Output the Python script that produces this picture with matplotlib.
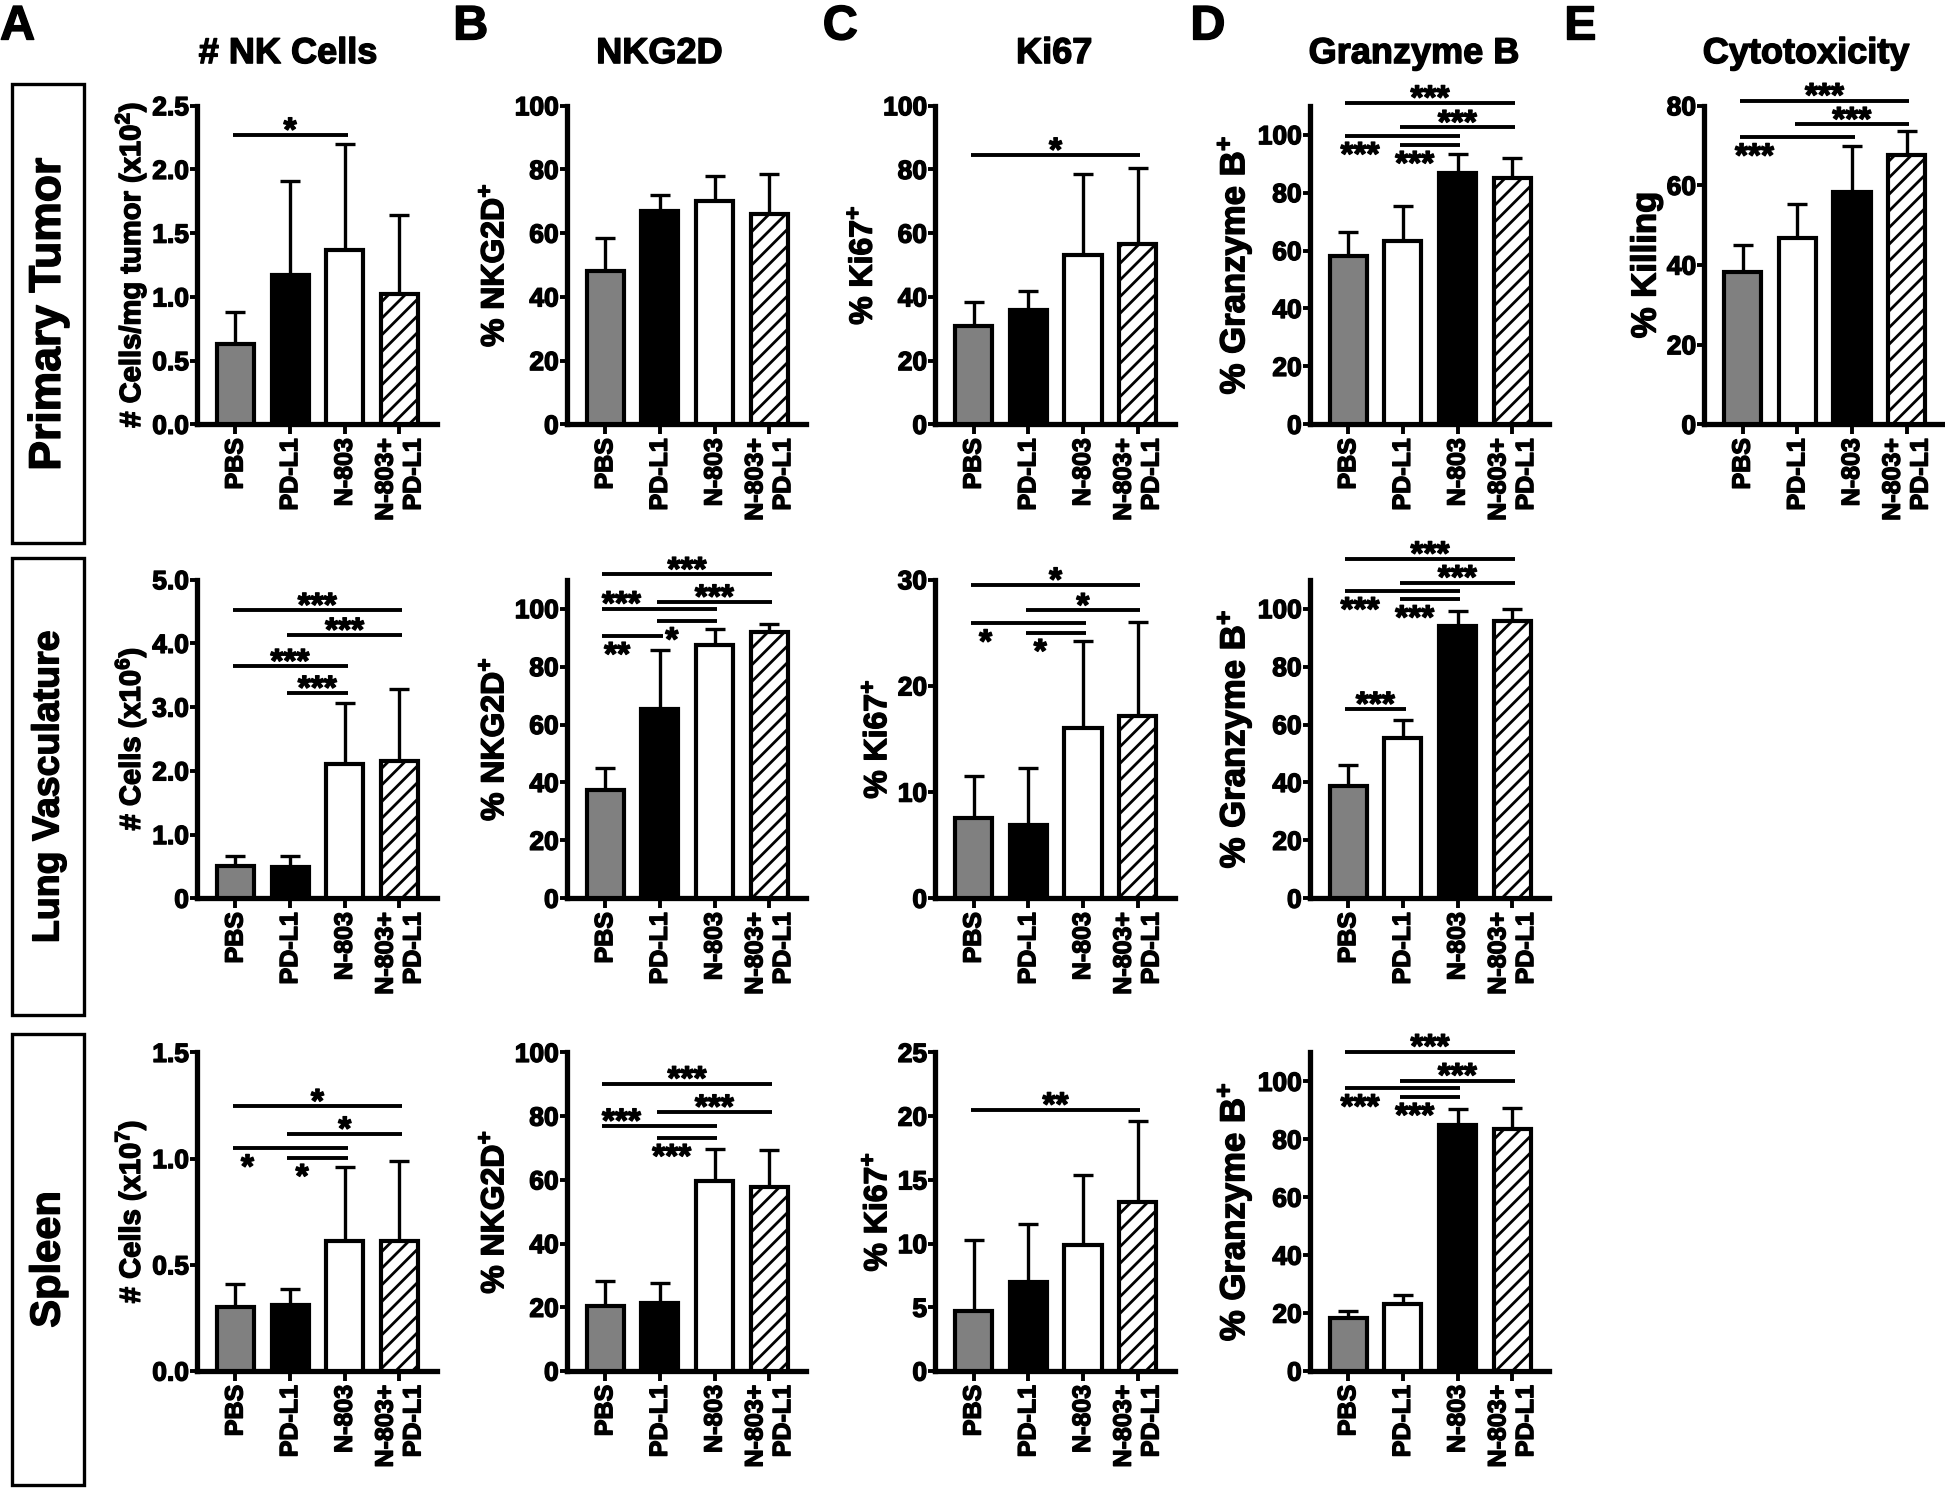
import matplotlib.pyplot as plt
import matplotlib.patches as mpatches
import matplotlib.patheffects as pe
from matplotlib.text import Text
import numpy as np

plt.rcParams['font.family'] = ['Liberation Sans', 'DejaVu Sans']
plt.rcParams['font.weight'] = 'bold'
plt.rcParams['axes.labelweight'] = 'bold'
plt.rcParams['mathtext.fontset'] = 'custom'
plt.rcParams['mathtext.rm'] = 'Liberation Sans:bold'
plt.rcParams['mathtext.bf'] = 'Liberation Sans:bold'
plt.rcParams['mathtext.it'] = 'Liberation Sans:bold'
plt.rcParams['mathtext.default'] = 'rm'
plt.rcParams['hatch.linewidth'] = 2.0

groups = ['PBS', 'PD-L1', 'N-803', 'N-803+\nPD-L1']
rows = ['Primary Tumor', 'Lung Vasculature', 'Spleen']
titles = ['# NK Cells', 'NKG2D', 'Ki67', 'Granzyme B', 'Cytotoxicity']
letters = ['A', 'B', 'C', 'D', 'E']

# primary tumor (mean, upper SD)
nk_tumor = [0.63, 1.17, 1.37, 1.02]
nk_tumor_sd = [0.25, 0.74, 0.83, 0.62]
nkg2d_tumor = [48, 67, 70, 66]
nkg2d_tumor_sd = [10.5, 5, 8, 12.5]
ki67_tumor = [31, 36, 53, 56.5]
ki67_tumor_sd = [7.5, 6, 25.5, 24]
gzmb_tumor = [58, 63.3, 86.8, 85.2]
gzmb_tumor_sd = [8.3, 12, 6.7, 6.8]
killing = [38.2, 46.9, 58.4, 67.6]
killing_sd = [6.9, 8.3, 11.5, 6.1]

# lung vasculature
nk_lung = [0.50, 0.49, 2.11, 2.16]
nk_lung_sd = [0.16, 0.17, 0.96, 1.13]
nkg2d_lung = [37.4, 65.2, 87.6, 92]
nkg2d_lung_sd = [7.6, 20.4, 5.3, 2.8]
ki67_lung = [7.6, 6.9, 16.05, 17.2]
ki67_lung_sd = [3.9, 5.4, 8.15, 8.8]
gzmb_lung = [38.9, 55.4, 94.1, 95.9]
gzmb_lung_sd = [7.2, 6, 5.1, 4.1]

# spleen
nk_spleen = [0.30, 0.31, 0.61, 0.61]
nk_spleen_sd = [0.11, 0.075, 0.35, 0.38]
nkg2d_spleen = [20.4, 21.4, 59.6, 57.9]
nkg2d_spleen_sd = [8, 6.3, 10.2, 11.4]
ki67_spleen = [4.72, 7.0, 9.9, 13.3]
ki67_spleen_sd = [5.6, 4.5, 5.5, 6.3]
gzmb_spleen = [18.4, 23.0, 84.9, 83.7]
gzmb_spleen_sd = [2.3, 3.1, 5.4, 7.1]

# significance bars: (group i, group j, level, stars, where the stars go)
sig_nk_tumor = [(0, 2, 2.27, '*', 'a')]
sig_ki67_tumor = [(0, 3, 84.5, '*', 'a')]
sig_gzmb_tumor = [(0, 3, 111, '***', 'a'), (1, 3, 102.5, '***', 'a'),
                  (0, 2, 99.6, '***', 'b'), (1, 2, 96.5, '***', 'b')]
sig_killing = [(0, 3, 81.3, '***', 'a'), (1, 3, 75.3, '***', 'a'),
               (0, 2, 72.1, '***', 'b')]
sig_nk_lung = [(0, 3, 4.52, '***', 'a'), (1, 3, 4.13, '***', 'a'),
               (0, 2, 3.64, '***', 'a'), (1, 2, 3.22, '***', 'a')]
sig_nkg2d_lung = [(0, 3, 111.8, '***', 'a'), (1, 3, 102.3, '***', 'a'),
                  (0, 2, 100, '***', 'l'), (1, 2, 95.7, '*', 'b'),
                  (0, 1, 90.6, '**', 'b')]
sig_ki67_lung = [(0, 3, 29.5, '*', 'a'), (1, 3, 27.1, '*', 'a'),
                 (0, 2, 25.9, '*', 'b'), (1, 2, 25.0, '*', 'b')]
sig_gzmb_lung = [(0, 3, 117.2, '***', 'a'), (1, 3, 109, '***', 'a'),
                 (0, 2, 106.1, '***', 'b'), (1, 2, 103.3, '***', 'b'),
                 (0, 1, 65.3, '***', 'a')]
sig_nk_spleen = [(0, 3, 1.246, '*', 'a'), (1, 3, 1.116, '*', 'a'),
                 (0, 2, 1.049, '*', 'b'), (1, 2, 1.004, '*', 'b')]
sig_nkg2d_spleen = [(0, 3, 90.2, '***', 'a'), (1, 3, 81.3, '***', 'a'),
                    (0, 2, 76.9, '***', 'l'), (1, 2, 73.2, '***', 'b')]
sig_ki67_spleen = [(0, 3, 20.5, '**', 'a')]
sig_gzmb_spleen = [(0, 3, 110.3, '***', 'a'), (1, 3, 100.3, '***', 'a'),
                   (0, 2, 97.7, '***', 'b'), (1, 2, 94.7, '***', 'b')]

COLORS_ABC = ['#808080', 'black', 'white', 'white']
COLORS_DE = ['#808080', 'white', 'black', 'white']
HATCHES = [None, None, None, '//']

PCT = list(range(0, 101, 20))
# (col, row, mean, sd, sig, ylim, yticks, yticklabels, ylabel)
panels = [
    (0, 0, nk_tumor, nk_tumor_sd, sig_nk_tumor, 2.5, [0, 0.5, 1, 1.5, 2, 2.5],
     ['0.0', '0.5', '1.0', '1.5', '2.0', '2.5'], '# Cells/mg tumor (x10$^{2}$)'),
    (1, 0, nkg2d_tumor, nkg2d_tumor_sd, [], 100, PCT, None, '% NKG2D$^{+}$'),
    (2, 0, ki67_tumor, ki67_tumor_sd, sig_ki67_tumor, 100, PCT, None, '% Ki67$^{+}$'),
    (3, 0, gzmb_tumor, gzmb_tumor_sd, sig_gzmb_tumor, 110, PCT, None, '% Granzyme B$^{+}$'),
    (4, 0, killing, killing_sd, sig_killing, 80, [0, 20, 40, 60, 80], None, '% Killing'),
    (0, 1, nk_lung, nk_lung_sd, sig_nk_lung, 5.0, [0, 1, 2, 3, 4, 5],
     ['0', '1.0', '2.0', '3.0', '4.0', '5.0'], '# Cells (x10$^{6}$)'),
    (1, 1, nkg2d_lung, nkg2d_lung_sd, sig_nkg2d_lung, 110, PCT, None, '% NKG2D$^{+}$'),
    (2, 1, ki67_lung, ki67_lung_sd, sig_ki67_lung, 30, [0, 10, 20, 30], None, '% Ki67$^{+}$'),
    (3, 1, gzmb_lung, gzmb_lung_sd, sig_gzmb_lung, 110, PCT, None, '% Granzyme B$^{+}$'),
    (0, 2, nk_spleen, nk_spleen_sd, sig_nk_spleen, 1.5, [0, 0.5, 1, 1.5],
     ['0.0', '0.5', '1.0', '1.5'], '# Cells (x10$^{7}$)'),
    (1, 2, nkg2d_spleen, nkg2d_spleen_sd, sig_nkg2d_spleen, 100, PCT, None, '% NKG2D$^{+}$'),
    (2, 2, ki67_spleen, ki67_spleen_sd, sig_ki67_spleen, 25, [0, 5, 10, 15, 20, 25], None, '% Ki67$^{+}$'),
    (3, 2, gzmb_spleen, gzmb_spleen_sd, sig_gzmb_spleen, 110, PCT, None, '% Granzyme B$^{+}$'),
]

COL_LEFT = [0.1014, 0.2915, 0.4809, 0.6735, 0.8763]
ROW_BOTTOM = [0.715, 0.3967, 0.0792]
AX_W, AX_H = 0.1231, 0.214

fig = plt.figure(figsize=(19.45, 14.89), dpi=100)

for col, row, mean, sd, sig, ymax, yticks, ylabels, ylabel in panels:
    ax = fig.add_axes([COL_LEFT[col], ROW_BOTTOM[row], AX_W, AX_H])
    big = col >= 3
    colors = COLORS_DE if big else COLORS_ABC
    x = np.arange(len(groups))
    for xi, m, c, h in zip(x, mean, colors, HATCHES):
        ax.bar(xi, m, 0.68, color=c, edgecolor='black', linewidth=3.0,
               hatch=h, zorder=3)
    ax.errorbar(x, mean, yerr=[np.zeros(len(sd)), sd], fmt='none', ecolor='black',
                elinewidth=2.4, capsize=7, capthick=2.4, zorder=2)

    for i, j, y, txt, where in sig:
        ax.plot([i - 0.05, j + 0.05], [y, y], color='black', lw=2.8,
                clip_on=False, solid_capstyle='butt')
        if where == 'a':
            xs, dy = (i + j) / 2, -4
        elif where == 'l':
            xs, dy = i + 0.3, -4
        else:
            xs, dy = i + 0.22, -21
        ax.annotate(txt, (xs, y), xytext=(0, dy), textcoords='offset points',
                    ha='center', va='baseline', fontsize=24,
                    annotation_clip=False)

    ax.set_xlim(-0.7, 3.68)
    ax.set_ylim(0, ymax)
    ax.set_yticks(yticks)
    if ylabels is not None:
        ax.set_yticklabels(ylabels)
    ax.set_xticks(x)
    ax.set_xticklabels(groups, rotation=90, multialignment='right')
    ax.spines[['top', 'right']].set_visible(False)
    for s in ['left', 'bottom']:
        ax.spines[s].set_linewidth(3.8)
    ax.tick_params(axis='y', direction='out', length=5, width=2.8, pad=1,
                   labelsize=19)
    ax.tick_params(axis='x', direction='out', length=7, width=2.8, pad=3,
                   labelsize=18)
    if col == 0:
        size = 21
    elif big:
        size = 25
    else:
        size = 23
    ax.set_ylabel(ylabel, fontsize=size, labelpad=3)

# column titles and panel letters
TITLE_X = [0.148, 0.339, 0.542, 0.727, 0.9286]
LETTER_X = [0.0, 0.233, 0.423, 0.612, 0.804]
for t, tx, l, lx in zip(titles, TITLE_X, letters, LETTER_X):
    fig.text(tx, 0.964, t, ha='center', va='center', fontsize=26)
    fig.text(lx, 0.997, l, ha='left', va='top', fontsize=35)

# row label boxes
BOX_Y = [(0.635, 0.3083), (0.3183, 0.3067), (0.0025, 0.3033)]
ROW_SIZE = [32, 27, 30]
for name, (by, bh), fs in zip(rows, BOX_Y, ROW_SIZE):
    fig.add_artist(mpatches.Rectangle((0.0064, by), 0.037, bh,
                                      transform=fig.transFigure, fill=False,
                                      edgecolor='black', linewidth=2.4))
    fig.text(0.0064 + 0.037 / 2, by + bh / 2, name, rotation=90,
             ha='center', va='center', fontsize=fs)

# heavier glyphs, like the original export
for t in fig.findobj(Text):
    t.set_path_effects([pe.withStroke(linewidth=1.0, foreground='black')])

fig.savefig('out.png', dpi=100, facecolor='white')
